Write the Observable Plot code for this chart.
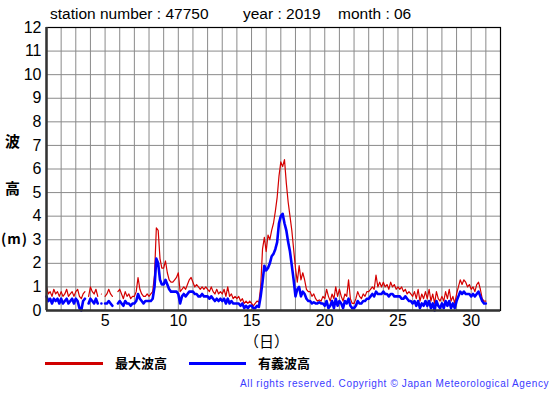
<!DOCTYPE html>
<html><head><meta charset="utf-8">
<script src="https://cdn.jsdelivr.net/npm/d3@7"></script>
<script src="https://cdn.jsdelivr.net/npm/@observablehq/plot@0.6"></script>
<style>
html,body{margin:0;padding:0;background:#fff}
body{width:555px;height:395px;position:relative;overflow:hidden;font-family:"Liberation Sans",Arial,sans-serif}
#chart{position:absolute;left:0;top:0}
.t{position:absolute;white-space:nowrap;color:#000}
.jp{font-family:"Noto Sans CJK JP",sans-serif;font-weight:bold}
.sw{position:absolute;height:3px}
</style></head><body>
<div id="chart"></div>
<div class="t" style="left:50px;top:5px;font-size:15.5px">station number : 47750</div>
<div class="t" style="left:243px;top:5px;font-size:15.5px">year : 2019</div>
<div class="t" style="left:338px;top:5px;font-size:15.5px">month : 06</div>
<div class="t jp" style="left:5px;top:130px;font-size:15px">波</div>
<div class="t jp" style="left:5px;top:177px;font-size:15px">高</div>
<div class="t jp" style="left:1px;top:228px;font-size:14px;letter-spacing:1px">(m)</div>
<div class="t jp" style="left:244px;top:330px;font-size:15px;font-weight:normal">（日）</div>
<div class="sw" style="left:45px;top:362px;width:58px;background:#d00000"></div>
<div class="t jp" style="left:115px;top:353px;font-size:13px">最大波高</div>
<div class="sw" style="left:189px;top:362px;width:57px;background:#0000ff"></div>
<div class="t jp" style="left:258px;top:353px;font-size:13px">有義波高</div>
<div class="t" style="left:240px;top:378px;font-size:10px;letter-spacing:0.62px;color:#3a3aff;font-family:'Liberation Sans',Arial,sans-serif">All rights reserved. Copyright © Japan Meteorological Agency</div>
<script>
// time axis: 3-hourly values starting at day 1 00h
const startDay = 1;
const stepsPerDay = 8;
const xTicks = [5, 10, 15, 20, 25, 30];
const yTicks = [0,1,2,3,4,5,6,7,8,9,10,11,12];

// 最大波高 (m), one row per day
const maxWave = [
  1.0,0.7,0.8,0.6,0.9,0.7,0.8,0.6,   // 1
  0.8,0.6,0.7,0.9,0.6,0.7,0.8,0.6,   // 2
  0.8,0.9,0.6,0.5,0.7,0.8,null,0.6,  // 3
  1.0,0.8,0.7,0.9,0.6,null,0.7,null, // 4
  0.6,0.7,0.9,0.7,0.6,null,null,0.8, // 5
  0.9,0.7,0.5,0.8,0.6,0.7,0.5,0.6,   // 6
  0.6,0.8,1.4,0.9,0.7,0.6,0.6,0.7,   // 7
  0.6,0.7,0.8,1.5,3.5,3.4,2.2,1.8,   // 8
  1.8,2.1,1.6,1.3,1.2,1.2,1.3,1.4,   // 9
  1.6,0.8,0.9,1.0,0.9,1.1,1.3,1.4,   // 10
  1.2,1.0,1.1,1.0,0.9,1.0,0.9,1.0,   // 11
  0.9,0.8,1.0,0.8,0.7,0.9,0.7,0.8,   // 12
  0.7,0.9,0.6,1.0,0.6,0.7,0.5,0.6,   // 13
  0.5,0.6,0.4,0.5,0.3,0.4,0.3,0.4,   // 14
  0.3,0.2,0.3,0.4,0.35,1.0,2.6,3.1,  // 15
  2.5,3.2,3.0,3.4,3.7,4.2,4.8,5.7,   // 16
  6.3,6.1,6.4,5.4,4.6,4.0,3.4,2.6,   // 17
  1.8,1.2,1.9,1.3,1.6,1.3,0.9,0.8,   // 18
  0.8,0.6,0.7,0.5,0.4,0.45,0.4,0.6,  // 19
  0.5,0.9,0.6,0.4,0.7,0.5,1.0,0.6,   // 20
  0.9,0.6,0.4,0.7,0.6,1.3,0.5,0.3,   // 21
  0.3,0.5,0.8,0.6,0.5,0.7,0.6,0.8,   // 22
  0.8,0.9,1.0,0.9,1.5,1.0,1.2,1.0,   // 23
  1.2,1.0,1.1,0.9,1.2,1.0,1.1,0.9,   // 24
  1.0,0.9,1.0,0.8,0.9,0.7,0.8,0.7,   // 25
  0.6,0.8,0.5,0.9,0.4,0.7,0.5,0.8,   // 26
  0.5,0.9,0.4,0.7,0.3,0.8,0.5,0.4,   // 27
  0.6,0.4,0.8,0.5,0.9,0.4,0.6,0.3,   // 28
  0.7,1.0,1.3,1.1,1.3,1.2,1.0,1.1,   // 29
  0.9,1.0,0.8,1.1,1.2,0.9,0.5,0.4,   // 30
  0.4                                // 31 00h
];

// 有義波高 (m), one row per day
const sigWave = [
  0.6,0.4,0.5,0.3,0.5,0.4,0.5,0.3,   // 1
  0.5,0.3,0.4,0.5,0.3,0.4,0.5,0.3,   // 2
  0.5,0.4,0.1,0.0,0.4,0.5,null,0.3,  // 3
  0.5,0.4,0.3,0.5,0.3,null,0.3,null, // 4
  0.3,0.3,0.4,0.3,0.2,null,null,0.3, // 5
  0.4,0.3,0.2,0.4,0.3,0.3,0.2,0.3,   // 6
  0.3,0.4,0.7,0.5,0.4,0.3,0.4,0.4,   // 7
  0.4,0.4,0.5,1.0,2.2,2.0,1.3,1.1,   // 8
  1.1,1.3,1.1,0.9,0.8,0.8,0.8,0.8,   // 9
  0.7,0.3,0.6,0.7,0.6,0.7,0.8,0.8,   // 10
  0.8,0.7,0.7,0.6,0.6,0.7,0.6,0.6,   // 11
  0.6,0.5,0.6,0.5,0.4,0.5,0.4,0.5,   // 12
  0.4,0.5,0.3,0.5,0.3,0.4,0.3,0.3,   // 13
  0.3,0.3,0.2,0.3,0.1,0.2,0.1,0.2,   // 14
  0.2,0.1,0.1,0.2,0.15,0.6,1.2,1.9,  // 15
  1.7,1.8,2.0,2.3,2.4,2.6,2.9,3.7,   // 16
  4.0,4.1,3.7,3.4,2.9,2.5,1.9,1.3,   // 17
  0.6,0.9,1.0,0.6,0.8,0.7,0.5,0.4,   // 18
  0.4,0.3,0.35,0.3,0.3,0.35,0.3,0.3, // 19
  0.2,0.4,0.1,0.2,0.4,0.1,0.5,0.2,   // 20
  0.4,0.3,0.1,0.4,0.3,0.5,0.2,0.1,   // 21
  0.1,0.2,0.4,0.3,0.3,0.4,0.4,0.5,   // 22
  0.5,0.6,0.7,0.6,0.8,0.7,0.7,0.7,   // 23
  0.8,0.7,0.7,0.6,0.7,0.7,0.6,0.6,   // 24
  0.6,0.6,0.5,0.5,0.6,0.5,0.4,0.4,   // 25
  0.3,0.4,0.2,0.4,0.1,0.3,0.2,0.4,   // 26
  0.2,0.4,0.1,0.3,0.0,0.4,0.2,0.1,   // 27
  0.3,0.1,0.4,0.2,0.4,0.1,0.3,0.1,   // 28
  0.4,0.6,0.8,0.7,0.8,0.7,0.7,0.7,   // 29
  0.6,0.7,0.6,0.7,0.8,0.6,0.4,0.3,   // 30
  0.3                                // 31 00h
];

const data = maxWave.map((v, i) => ({day: startDay + i / stepsPerDay, max: v, sig: sigWave[i]}));

const chart = Plot.plot({
  width: 555,
  height: 350,
  marginLeft: 46,
  marginRight: 55,
  marginTop: 27,
  marginBottom: 40,
  style: {fontSize: "16px", fontFamily: "Liberation Sans, Arial, sans-serif", background: "#fff", color: "#000"},
  x: {domain: [1, 32], label: null},
  y: {domain: [0, 12], label: null},
  marks: [
    Plot.gridX(d3.range(1, 33), {stroke: "#8a8a8a", strokeOpacity: 1, strokeWidth: 1}),
    Plot.gridY(yTicks, {stroke: "#8a8a8a", strokeOpacity: 1, strokeWidth: 1}),
    Plot.line(data, {x: "day", y: "max", stroke: "#d40000", strokeWidth: 1.2}),
    Plot.line(data, {x: "day", y: "sig", stroke: "#0000ff", strokeWidth: 2.6}),
    Plot.frame({stroke: "#000", strokeWidth: 1.2}),
    Plot.ruleX([1], {stroke: "#333", strokeWidth: 2.5}),
    Plot.ruleY([0], {stroke: "#333", strokeWidth: 2.5}),
    Plot.axisX({ticks: xTicks, tickSize: 0, tickPadding: 4, tickFormat: d => String(d), fontSize: 16}),
    Plot.axisY({ticks: yTicks, tickSize: 0, tickPadding: 5, tickFormat: d => String(d), fontSize: 16})
  ]
});
document.getElementById("chart").appendChild(chart);
</script>
</body></html>
